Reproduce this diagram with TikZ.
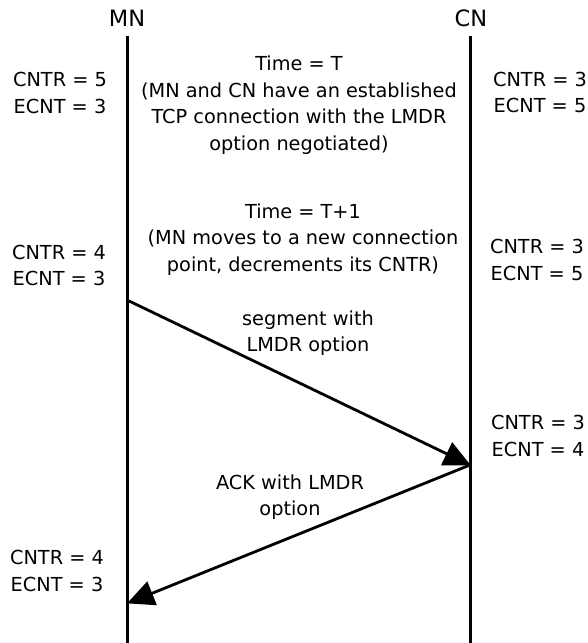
\documentclass[tikz,border=0pt]{standalone}
\usepackage{fontspec}
\setmainfont{DejaVu Sans}
\usetikzlibrary{arrows.meta}
\begin{document}
\begin{tikzpicture}[x=1pt,y=-1pt,
  txt/.style={font=\fontsize{19.3}{26.5}\selectfont, align=center, inner sep=0pt},
  head/.style={font=\fontsize{22.5}{26}\selectfont, inner sep=0pt},
  life/.style={line width=3pt},
  msg/.style={line width=2.8pt, -{Triangle[length=27pt,width=25pt]}, shorten >=-1pt}]
\useasboundingbox (0,0) rectangle (587,643);
\node[head] (mn) at (127,18) {MN};
\node[head] (cn) at (471,18) {CN};
\coordinate (mnt) at (127,36);
\coordinate (mnb) at (127,643);
\coordinate (cnt) at (470,36);
\coordinate (cnb) at (470,643);
\draw[life] (mnt) -- (mnb);
\draw[life] (cnt) -- (cnb);

\node[txt] (l1) at (60,93) {CNTR = 5\\ECNT = 3};
\node[txt] (c1) at (299,105) {Time = T\\(MN and CN have an established\\TCP connection with the LMDR\\option negotiated)};
\node[txt] (r1) at (540,92.5) {CNTR = 3\\ECNT = 5};

\node[txt] (c2) at (303,239.5) {Time = T+1\\(MN moves to a new connection\\point, decrements its CNTR)};
\node[txt] (l2) at (59,265.5) {CNTR = 4\\ECNT = 3};
\node[txt] (r2) at (537,260) {CNTR = 3\\ECNT = 5};

\coordinate (a1s) at (127,300);
\coordinate (a1e) at (470,465);
\draw[msg] (a1s) -- (a1e);
\node[txt] (m1) at (308,333) {segment with\\LMDR option};

\node[txt] (r3) at (538,436) {CNTR = 3\\ECNT = 4};

\coordinate (a2e) at (128,603);
\draw[msg] (a1e) -- (a2e);
\node[txt] (m2) at (290,497) {ACK with LMDR\\option};

\node[txt] (l4) at (57,571) {CNTR = 4\\ECNT = 3};
\end{tikzpicture}
\end{document}
